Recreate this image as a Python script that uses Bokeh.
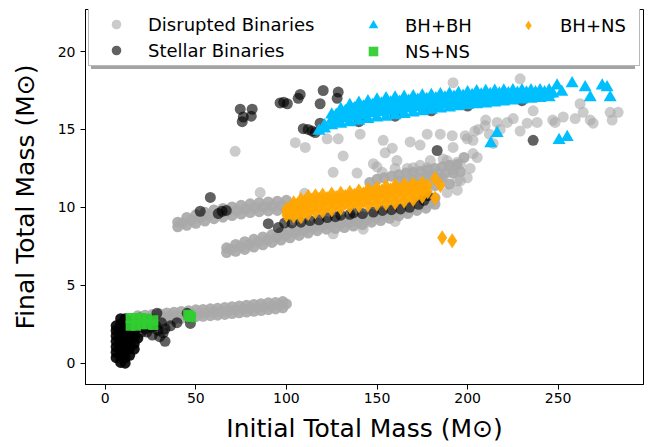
from bokeh.plotting import figure
from bokeh.models import Legend, LegendItem, FixedTicker
from bokeh.embed import file_html
from bokeh.resources import INLINE

# ---------------- data ----------------
x_ticks = [0, 50, 100, 150, 200, 250]
y_ticks = [0, 5, 10, 15, 20]

# Disrupted Binaries, dense bands
dis_low_x = [18, 22, 26, 30, 34, 38, 42, 46, 50, 54, 58, 62, 66, 70, 74, 78, 82, 86, 90, 94, 98,
             18, 22, 26, 30, 34, 38, 42, 46, 50, 54, 58, 62, 66, 70, 74, 78, 82, 86, 90, 94, 98,
             20, 24, 28, 32, 36, 40, 44, 48, 52, 56, 60, 64, 68, 72, 76, 80, 84, 88, 92, 96, 100]
dis_low_y = [3.05, 3.08, 3.12, 3.17, 3.22, 3.27, 3.32, 3.37, 3.42, 3.45, 3.49, 3.52, 3.57, 3.62, 3.67, 3.72, 3.77, 3.82, 3.87, 3.9, 3.95,
             2.6, 2.64, 2.68, 2.73, 2.78, 2.83, 2.88, 2.93, 2.98, 3.01, 3.05, 3.08, 3.13, 3.18, 3.23, 3.28, 3.33, 3.38, 3.43, 3.48, 3.55,
             2.84, 2.88, 2.93, 2.98, 3.03, 3.08, 3.12, 3.18, 3.21, 3.25, 3.28, 3.33, 3.38, 3.43, 3.48, 3.52, 3.58, 3.62, 3.68, 3.72, 3.8]

dis_up_x = [40, 45, 50, 55, 60, 65, 70, 75, 80, 85, 90, 95, 100,
            40, 45, 50, 55, 60, 65, 70, 75, 80, 85, 90, 95, 100,
            42.5, 47.5, 52.5, 57.5, 62.5, 67.5, 72.5, 77.5, 82.5, 87.5, 92.5, 97.5,
            105, 110, 115, 120, 125, 130, 135, 140, 145, 150, 155, 160, 165, 170, 175]
dis_up_y = [9.05, 9.35, 9.52, 9.68, 9.83, 9.93, 10.03, 10.13, 10.23, 10.3, 10.35, 10.4, 10.45,
            8.75, 8.85, 8.98, 9.12, 9.27, 9.37, 9.47, 9.57, 9.67, 9.72, 9.77, 9.8, 9.85,
            9.0, 9.18, 9.33, 9.48, 9.6, 9.7, 9.8, 9.9, 9.98, 10.03, 10.08, 10.12,
            10.2, 10.3, 10.4, 10.5, 10.55, 10.6, 10.7, 10.8, 10.9, 11.0, 11.1, 11.2, 11.3, 11.4, 11.5]

dis_mid_x = [67, 72, 77, 82, 87, 92, 97, 102, 107, 112, 117, 122, 127, 132, 137, 142, 147, 152, 157, 162, 167, 172, 177, 182,
             67, 72, 77, 82, 87, 92, 97, 102, 107, 112, 117, 122, 127, 132, 137, 142, 147, 152, 157, 162, 167, 172, 177, 182,
             69.5, 74.5, 79.5, 84.5, 89.5, 94.5, 99.5, 104.5, 109.5, 114.5, 119.5, 124.5, 129.5, 134.5, 139.5, 144.5,
             149.5, 154.5, 159.5, 164.5, 169.5, 174.5, 179.5]
dis_mid_y = [7.4, 7.62, 7.8, 7.95, 8.1, 8.25, 8.4, 8.55, 8.7, 8.85, 9.0, 9.1, 9.15, 9.2, 9.3, 9.4, 9.55, 9.65, 9.8, 9.95, 10.1, 10.3, 10.45, 10.6,
             7.1, 7.18, 7.3, 7.45, 7.6, 7.75, 7.9, 8.05, 8.2, 8.35, 8.5, 8.6, 8.65, 8.7, 8.8, 8.9, 9.05, 9.15, 9.3, 9.45, 9.6, 9.8, 9.95, 10.2,
             7.32, 7.48, 7.62, 7.78, 7.92, 8.08, 8.22, 8.38, 8.52, 8.68, 8.8, 8.88, 8.92, 9.0, 9.1, 9.22,
             9.35, 9.48, 9.62, 9.78, 9.95, 10.12, 10.3]

dis_dense_top_x = [146, 150, 154, 158, 162, 166, 170, 174, 178, 182, 186, 190, 186, 190, 182, 184, 192, 178,
                   170, 162, 196, 188, 180, 174, 166, 194, 198]
dis_dense_top_y = [11.6, 11.8, 11.9, 12.0, 12.1, 12.2, 12.25, 12.3, 12.4, 12.5, 12.6, 12.7, 11.9, 11.5, 11.4, 11.9, 12.2, 11.9,
                   11.8, 11.7, 12.3, 12.2, 12.0, 11.9, 11.75, 12.75, 13.2]

# Disrupted Binaries, scattered points
dis_scat_x = [85.5, 110, 125.8, 142.4, 160,
              104.9, 110.4, 71.7, 122.5, 128.6, 140.7, 131.3, 125.8, 139, 153.4, 158.4, 154.5, 150, 152.9, 160,
              168.3, 173.8, 177.7, 184.9, 191.5, 199.8, 204, 192, 203, 188.7, 196, 170, 177.7, 183, 192,
              199.8, 194.3, 201.4, 148, 161, 166.7, 173.8, 179.4, 186.5, 194.3, 194.3, 188.7, 196,
              198.7, 209.7, 216.3, 221.9, 225.2, 229, 232.9, 236.2, 238.4, 248.3, 252.8, 259.4, 262.1,
              263.8, 267.7, 269.3, 278.7, 283.1, 279.8, 203, 205.3, 214.1, 192, 229, 206, 212, 218, 210, 247]
dis_scat_y = [10.95, 10.9, 8.3, 8.6, 9.1,
              14.15, 13.85, 13.6, 14.4, 14.4, 14.7, 13.3, 12.25, 12.2, 14.3, 13.8, 13.5, 12.6, 12.25, 12.5,
              14.2, 14.0, 14.7, 14.7, 14.6, 14.4, 14.9, 13.85, 13.45, 13.0, 12.8, 12.55, 12.55, 12.2, 12.4,
              11.9, 11.7, 12.5, 12.8, 13.0, 12.5, 12.7, 13.0, 13.1, 12.9, 11.1, 10.95, 11.7,
              14.6, 15.25, 15.45, 15.45, 15.7, 14.9, 15.4, 16.2, 15.45, 15.45, 15.8, 15.7, 16.65,
              16.1, 15.6, 15.4, 16.1, 16.1, 15.6, 14.3, 13.2, 14.1, 18.0, 18.25, 15.0, 14.7, 15.0, 15.6, 15.6]

# Stellar Binaries: dense core near the origin
stel_core_x = [6, 6, 6, 6, 6, 6, 6,
               8.5, 8.5, 8.5, 8.5, 8.5, 8.5, 8.5, 8.5, 8.5,
               11, 11, 11, 11, 11, 11, 11, 11, 11,
               13.5, 13.5, 13.5, 13.5, 13.5, 13.5, 13.5,
               16, 16, 16, 16, 16, 16, 18, 18]
stel_core_y = [0.35, 0.7, 1.05, 1.4, 1.75, 2.1, 2.4,
               0.05, 0.4, 0.75, 1.1, 1.45, 1.8, 2.15, 2.5, 2.85,
               0.0, 0.35, 0.7, 1.05, 1.4, 1.75, 2.1, 2.45, 2.85,
               0.5, 0.95, 1.3, 1.65, 2.0, 2.35, 2.7,
               0.9, 1.25, 1.6, 1.95, 2.3, 2.65, 1.6, 2.5]

# Stellar Binaries: scattered points
stel_ext_x = [19, 19, 22, 22, 25, 25, 28, 28.5, 31, 33, 30, 33, 32, 36, 39.6, 45.2, 47, 20, 23, 26, 29]
stel_ext_y = [2.3, 2.9, 2.2, 2.8, 2.3, 2.8, 2.4, 3.2, 2.6, 2.2, 1.7, 1.4, 1.95, 2.4, 2.6, 3.2, 2.55, 2.0, 2.0, 1.8, 2.1]

stel_mid_x = [58, 52.4, 62.4, 66.8, 64.5, 90, 95.5, 99,
              103, 108, 113, 118, 122.5, 127, 130, 135, 137, 142, 148, 153, 158, 163, 168, 173, 176, 178]
stel_mid_y = [10.64, 9.75, 9.6, 9.8, 9.75, 8.95, 8.7, 9.0,
              9.0, 9.05, 9.15, 9.2, 9.35, 9.4, 9.5, 9.55, 9.65, 9.6, 9.7, 9.8, 9.85, 9.9, 10.0, 10.2, 10.45, 10.75]

stel_up_x = [74.5, 81.1, 76.2, 80.6, 75.6, 96.5, 98.5, 100.5, 106.5, 107.6, 120.3, 128.6, 128, 118.6,
             109.3, 114.2, 118.6, 115.9, 112, 183.2, 236.2, 140, 160, 180, 200, 230]
stel_up_y = [16.3, 16.3, 15.8, 15.85, 15.5, 16.7, 16.75, 16.65, 17.0, 17.25, 17.5, 17.4, 17.0, 16.65,
             15.05, 14.9, 15.4, 14.8, 15.0, 13.65, 14.3, 15.5, 15.85, 16.2, 16.5, 16.85]

# BH+BH
bhbh_x = [118, 121, 121,
          125, 130, 135, 140, 145, 150, 155, 160, 165, 170, 175, 180, 185, 190, 195, 200, 205, 210, 215, 220, 225, 230, 235, 240, 245,
          125, 130, 135, 140, 145, 150, 155, 160, 165, 170, 175, 180, 185, 190, 195, 200, 205, 210, 215, 220, 225, 230, 235, 240, 245,
          125, 130, 135, 140, 145, 150, 155, 160, 165, 170, 175, 180, 185, 190, 195, 200, 205, 210, 215, 220, 225, 230, 235, 240, 245,
          127.5, 132.5, 137.5, 142.5, 147.5, 152.5, 157.5, 162.5, 167.5, 172.5, 177.5, 182.5, 187.5, 192.5, 197.5, 202.5,
          207.5, 212.5, 217.5, 222.5, 227.5, 232.5, 237.5, 242.5,
          127.5, 132.5, 137.5, 142.5, 147.5, 152.5, 157.5, 162.5, 167.5, 172.5, 177.5, 182.5, 187.5, 192.5, 197.5, 202.5,
          207.5, 212.5, 217.5, 222.5, 227.5, 232.5, 237.5, 242.5,
          249.4, 257.7, 264.9, 267.7, 274.3, 277, 278.7, 216.3, 212.8, 250.5, 255, 247, 252]
bhbh_y = [14.9, 15.05, 15.25,
          15.25, 15.35, 15.45, 15.55, 15.65, 15.75, 15.8, 15.9, 15.98, 16.08, 16.15, 16.25, 16.33, 16.4, 16.48, 16.55, 16.6, 16.65, 16.72, 16.78, 16.84, 16.9, 16.95, 17.0, 17.05,
          15.6, 15.83, 16.0, 16.13, 16.23, 16.33, 16.39, 16.47, 16.53, 16.6, 16.66, 16.73, 16.79, 16.84, 16.9, 16.97, 17.02, 17.05, 17.1, 17.13, 17.17, 17.2, 17.23, 17.25, 17.28,
          15.95, 16.3, 16.55, 16.7, 16.8, 16.9, 16.98, 17.03, 17.08, 17.12, 17.17, 17.2, 17.24, 17.28, 17.32, 17.38, 17.43, 17.45, 17.47, 17.48, 17.5, 17.5, 17.5, 17.5, 17.5,
          15.53, 15.69, 15.82, 15.92, 16.02, 16.1, 16.17, 16.24, 16.33, 16.41, 16.47, 16.55, 16.62, 16.68, 16.75, 16.8,
          16.85, 16.9, 16.95, 17.0, 17.05, 17.08, 17.12, 17.15,
          15.92, 16.17, 16.35, 16.46, 16.56, 16.65, 16.71, 16.76, 16.83, 16.89, 16.94, 16.99, 17.04, 17.09, 17.14, 17.19,
          17.23, 17.26, 17.29, 17.31, 17.34, 17.36, 17.37, 17.38,
          17.8, 17.95, 17.7, 17.05, 17.8, 17.7, 17.05, 14.75, 14.1, 14.3, 14.5, 17.3, 17.4]

# NS+NS
nsns_x = [14, 14, 17, 17, 20, 20, 23, 23, 26.5, 26.5, 45.8, 47.4, 46.5]
nsns_y = [2.4, 2.9, 2.4, 2.9, 2.5, 2.9, 2.5, 2.85, 2.45, 2.75, 3.1, 2.95, 3.05]

# BH+NS
bhns_x = [100, 104, 108, 112, 116, 120, 125, 130, 135, 140, 145, 150, 155, 160, 165, 170, 175,
          100, 104, 108, 112, 116, 120, 125, 130, 135, 140, 145, 150, 155, 160, 165, 170, 175,
          100, 104, 108, 112, 116, 120, 125, 130, 135, 140, 145, 150, 155, 160, 165, 170, 175,
          102, 106, 110, 114, 118, 122.5, 127.5, 132.5, 137.5, 142.5, 147.5, 152.5, 157.5, 162.5, 167.5, 172.5,
          102, 106, 110, 114, 118, 122.5, 127.5, 132.5, 137.5, 142.5, 147.5, 152.5, 157.5, 162.5, 167.5, 172.5,
          178, 178, 182, 185, 182, 186, 191.5]
bhns_y = [9.5, 9.45, 9.4, 9.6, 9.7, 9.75, 9.85, 9.95, 10.05, 10.1, 10.15, 10.2, 10.25, 10.3, 10.4, 10.5, 10.7,
          9.9, 10.3, 10.5, 10.7, 10.75, 10.8, 10.85, 10.9, 10.95, 11.05, 11.15, 11.25, 11.35, 11.4, 11.45, 11.5, 11.55,
          9.7, 9.88, 9.95, 10.15, 10.22, 10.28, 10.35, 10.42, 10.5, 10.58, 10.65, 10.72, 10.8, 10.85, 10.92, 11.0, 11.12,
          9.66, 9.72, 9.83, 9.97, 10.04, 10.1, 10.19, 10.28, 10.36, 10.41, 10.49, 10.54, 10.61, 10.67, 10.76, 10.88,
          9.94, 10.16, 10.33, 10.45, 10.52, 10.57, 10.64, 10.7, 10.77, 10.86, 10.95, 11.03, 11.11, 11.15, 11.22, 11.29,
          11.0, 11.4, 11.85, 11.4, 10.6, 8.05, 7.85]

labels = ["Disrupted Binaries", "Stellar Binaries", "BH+BH", "NS+NS", "BH+NS"]

# ---------------- figure ----------------
FONT = "DejaVu Sans"
p = figure(width=657, height=447, x_range=(-10.9, 297.1), y_range=(-1.37, 22.70),
           output_backend="svg", toolbar_location=None,
           min_border_left=85, min_border_right=14, min_border_top=9, min_border_bottom=63)
p.grid.visible = False
p.outline_line_color = "black"
p.outline_line_width = 1

p.xaxis.ticker = FixedTicker(ticks=x_ticks)
p.yaxis.ticker = FixedTicker(ticks=y_ticks)
p.xaxis.axis_label = "Initial Total Mass (M\u2299)"
p.yaxis.axis_label = "Final Total Mass (M\u2299)"
for ax in (p.xaxis[0], p.yaxis[0]):
    ax.axis_line_color = "black"
    ax.major_tick_line_color = "black"
    ax.major_tick_in = 0
    ax.major_tick_out = 5
    ax.minor_tick_in = 0
    ax.minor_tick_out = 0
    ax.major_label_text_font = FONT
    ax.major_label_text_font_size = "14px"
    ax.major_label_text_color = "black"
    ax.axis_label_text_font = FONT
    ax.axis_label_text_font_size = "25px"
    ax.axis_label_text_font_style = "normal"
    ax.axis_label_text_color = "black"
p.xaxis.major_label_standoff = 3
p.xaxis.axis_label_standoff = 8
p.yaxis.major_label_standoff = 5
p.yaxis.axis_label_standoff = 15

# dense bands of disrupted binaries (many overlapping points -> nearly opaque)
p.scatter(dis_low_x + dis_up_x + dis_mid_x + dis_dense_top_x,
          dis_low_y + dis_up_y + dis_mid_y + dis_dense_top_y,
          marker="circle", size=11, fill_color="darkgray", fill_alpha=0.92, line_color=None)
r_dis = p.scatter(dis_scat_x, dis_scat_y,
                  marker="circle", size=11, fill_color="darkgray", fill_alpha=0.6, line_color=None)
# dense core of stellar binaries
p.scatter(stel_core_x, stel_core_y, marker="circle", size=11, fill_color="black",
          fill_alpha=0.9, line_color=None)
r_stel = p.scatter(stel_ext_x + stel_mid_x + stel_up_x, stel_ext_y + stel_mid_y + stel_up_y,
                   marker="circle", size=11, fill_color="black", fill_alpha=0.62, line_color=None)
r_bhbh = p.scatter(bhbh_x, bhbh_y, marker="triangle", size=13, fill_color="deepskyblue",
                   fill_alpha=1.0, line_color=None)
r_nsns = p.scatter(nsns_x, nsns_y, marker="square", size=10, fill_color="limegreen",
                   fill_alpha=0.95, line_color=None)
r_bhns = p.scatter(bhns_x, bhns_y, marker="diamond", size=15, fill_color="orange",
                   fill_alpha=0.95, line_color=None)
dummy = p.scatter(x=[], y=[], marker="square", size=1, fill_alpha=0, line_alpha=0)

common = dict(orientation="vertical", padding=3, spacing=2, glyph_width=48, glyph_height=24,
              label_standoff=8, label_height=24, margin=0,
              label_text_font=FONT, label_text_font_size="18px", label_text_color="black")

shadow = Legend(items=[LegendItem(label=" ", renderers=[dummy]), LegendItem(label=" ", renderers=[dummy])],
                location=(6, 315), label_width=488, background_fill_color="#a3a3a3",
                background_fill_alpha=1, border_line_color=None, **common)
leg1 = Legend(items=[LegendItem(label=labels[0], renderers=[r_dis]),
                     LegendItem(label=labels[1], renderers=[r_stel])],
              location=(3, 318), label_width=488, background_fill_color="white",
              background_fill_alpha=1, border_line_color="#b8b8b8", border_line_alpha=1.0,
              border_line_width=1.3, **common)
leg2 = Legend(items=[LegendItem(label=labels[2], renderers=[r_bhbh]),
                     LegendItem(label=labels[3], renderers=[r_nsns])],
              location=(261, 318), background_fill_alpha=0, border_line_alpha=0, **common)
leg3 = Legend(items=[LegendItem(label=labels[4], renderers=[r_bhns])],
              location=(416, 344), background_fill_alpha=0, border_line_alpha=0, **common)
for lg in (shadow, leg1, leg2, leg3):
    p.add_layout(lg)

open("out.html", "w").write(file_html(p, INLINE))
